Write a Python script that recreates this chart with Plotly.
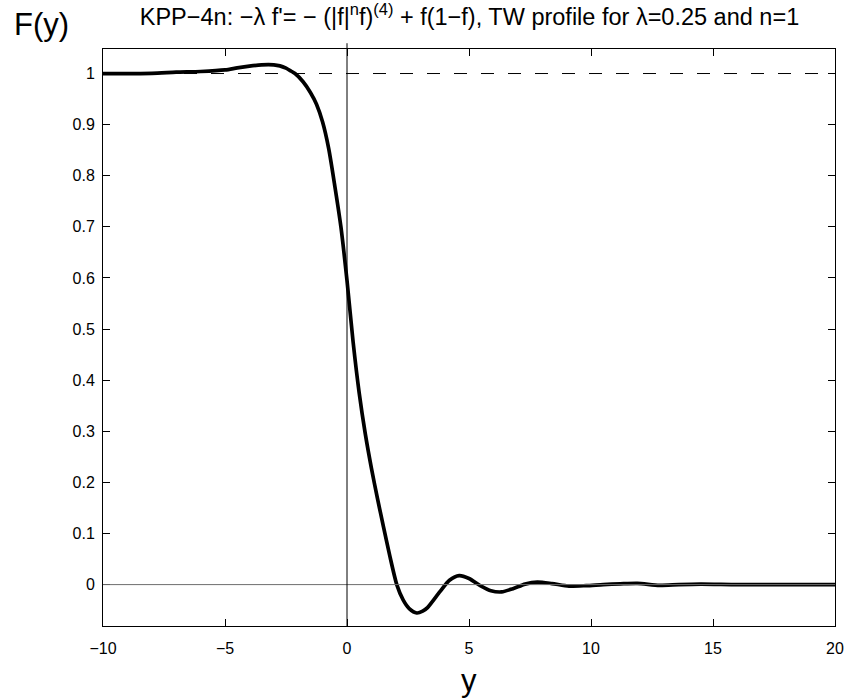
import plotly.graph_objects as go

y_vals = [-10, -8, -7, -6, -5, -4.5, -4, -3.5, -3.0, -2.75, -2.5, -2.3, -2.13, -1.8, -1.5,
          -1.25, -1.0, -0.75, -0.5, -0.25, 0.0, 0.25, 0.5, 0.75, 1.0, 1.25, 1.5, 1.75,
          2.04, 2.3, 2.55, 2.86, 3.1, 3.3, 3.8, 4.2, 4.6, 5.0, 5.5, 5.9, 6.34, 6.8, 7.3,
          7.8, 8.4, 9.1, 9.8, 10.5, 11.2, 11.9, 12.8, 13.6, 14.5, 16, 18, 20]
F_vals = [1.0, 1.0005, 1.0027, 1.004, 1.007, 1.011, 1.0145, 1.017, 1.017, 1.015, 1.0105,
          1.005, 1.0, 0.984, 0.963, 0.940, 0.905, 0.853, 0.78, 0.70, 0.595, 0.475, 0.375,
          0.295, 0.228, 0.168, 0.112, 0.057, 0.0, -0.03, -0.047, -0.0555, -0.052, -0.045,
          -0.0144, 0.0085, 0.0176, 0.012, -0.003, -0.012, -0.0143, -0.008, 0.001, 0.005,
          0.002, -0.003, -0.002, 0.0, 0.0015, 0.0025, -0.0015, 0.0, 0.001, 0.0, 0.0, 0.0]

x_ticks = [-10, -5, 0, 5, 10, 15, 20]
x_tick_text = ["−10", "−5", "0", "5", "10", "15", "20"]
y_ticks = [0, 0.1, 0.2, 0.3, 0.4, 0.5, 0.6, 0.7, 0.8, 0.9, 1]
y_tick_text = ["0", "0.1", "0.2", "0.3", "0.4", "0.5", "0.6", "0.7", "0.8", "0.9", "1"]

FONT = "Liberation Sans, Arial, Helvetica, sans-serif"

fig = go.Figure()
fig.add_trace(go.Scatter(x=y_vals, y=F_vals, mode="lines",
                         line=dict(color="black", width=3.7, shape="spline", smoothing=0.7),
                         showlegend=False, hoverinfo="skip"))

# reference lines
fig.add_shape(type="line", xref="x", yref="y", x0=-10, x1=20, y0=1, y1=1,
              line=dict(color="black", width=1, dash="13px,14px"))
fig.add_shape(type="line", xref="x", yref="y", x0=-10, x1=20, y0=0, y1=0,
              line=dict(color="#6e6e6e", width=1))
fig.add_shape(type="line", xref="x", yref="paper", x0=0, x1=0, y0=0, y1=1.01,
              line=dict(color="black", width=1))

fig.update_layout(
    width=849, height=698, autosize=False,
    margin=dict(l=103, r=14, t=49, b=71.5),
    paper_bgcolor="white", plot_bgcolor="white",
    font=dict(family=FONT, size=16, color="black"),
    title=dict(text="KPP−4n: −λ f'= − (|f|<sup>n</sup>f)<sup>(4)</sup> + f(1−f), TW profile for λ=0.25 and n=1",
               x=0.553, xanchor="center", y=0.976, yanchor="middle",
               font=dict(family=FONT, size=23.5, color="black")),
    xaxis=dict(range=[-10, 20], tickvals=x_ticks, ticktext=x_tick_text,
               ticks="inside", ticklen=7, tickcolor="black", tickwidth=1,
               showline=True, linecolor="black", linewidth=1, mirror="ticks",
               showgrid=False, zeroline=False, tickfont=dict(size=16),
               automargin=False, ticklabeloverflow="allow", ticklabelstandoff=8),
    yaxis=dict(range=[-0.081, 1.048], tickvals=y_ticks, ticktext=y_tick_text,
               ticks="inside", ticklen=7, tickcolor="black", tickwidth=1,
               showline=True, linecolor="black", linewidth=1, mirror="ticks",
               showgrid=False, zeroline=False, tickfont=dict(size=16),
               automargin=False, ticklabelstandoff=4),
)

fig.add_annotation(text="F(y)", xref="paper", yref="paper", x=-0.124, y=1.042,
                   xanchor="left", yanchor="middle", showarrow=False,
                   font=dict(family=FONT, size=31, color="black"))
fig.add_annotation(text="y", xref="paper", yref="paper", x=0.5, y=-0.094,
                   xanchor="center", yanchor="middle", showarrow=False,
                   font=dict(family=FONT, size=31, color="black"))

fig.write_html("out.html",
               config={"displayModeBar": False, "responsive": False},
               post_script="document.body.style.margin='0';"
                           "document.documentElement.style.overflow='hidden';"
                           "document.body.style.overflow='hidden';")
